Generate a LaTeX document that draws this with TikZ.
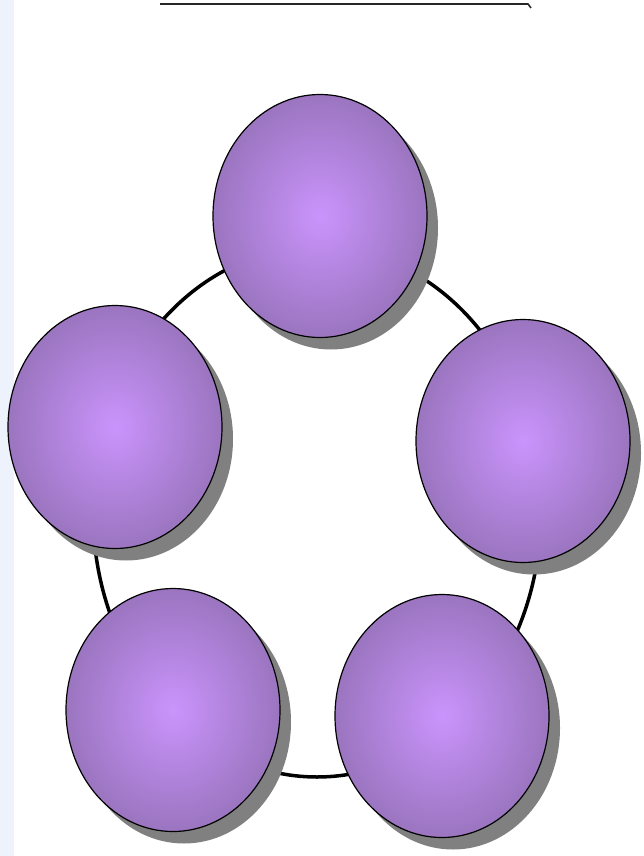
\documentclass[tikz,border=0pt]{standalone}
\usetikzlibrary{shapes.geometric,shadows}
\definecolor{bubblein}{RGB}{202,148,252}
\definecolor{bubbleout}{RGB}{155,117,192}
\definecolor{sidebar}{RGB}{238,242,252}

\begin{document}
\begin{tikzpicture}[x=1pt,y=-1pt,
  bubble/.style={shape=ellipse,draw,line width=1.2pt,minimum width=214pt,minimum height=243pt,inner sep=0pt,
    inner color=bubblein,outer color=bubbleout,
    drop shadow={shadow xshift=11pt,shadow yshift=-12pt,fill=black!50,opacity=1}},]
\useasboundingbox (0,0) rectangle (644,856);
\fill[sidebar] (0,0) rectangle (14,856);

% rule at the top
\coordinate (t1) at (160,4);
\coordinate (t2) at (528,4);
\coordinate (t3) at (531,8);
\draw[line width=1.6pt,black!85] (t1) -- (t2) -- (t3);

% ring behind the bubbles
\draw[line width=3.5pt] (317,512) ellipse [x radius=224, y radius=265];

\node[bubble] (b1) at (320,216) {};
\node[bubble] (b2) at (523,441) {};
\node[bubble] (b3) at (442,716) {};
\node[bubble] (b4) at (173,710) {};
\node[bubble] (b5) at (115,427) {};
\end{tikzpicture}
\end{document}
